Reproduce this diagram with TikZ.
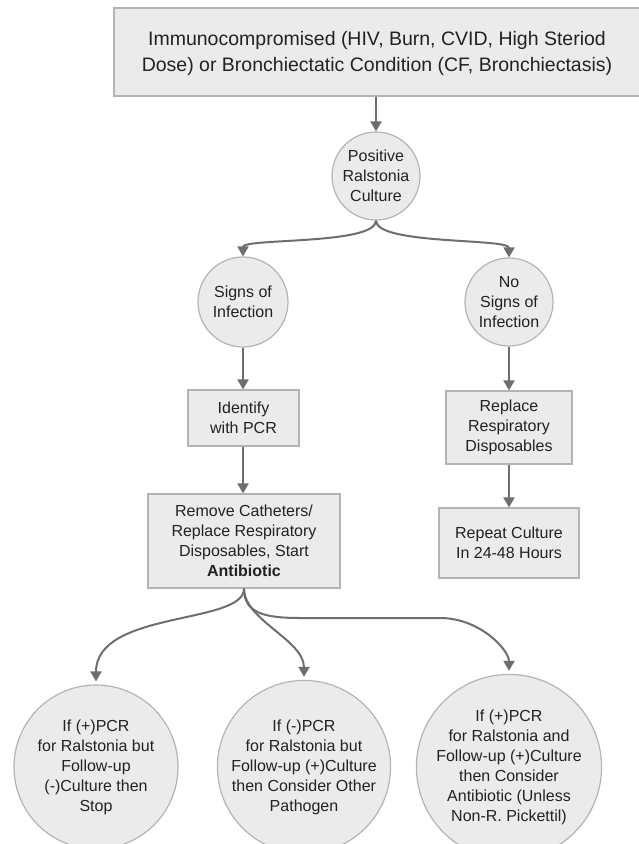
\documentclass[tikz,border=0pt]{standalone}
\usepackage{fontspec}
\setmainfont{Liberation Sans}
\usetikzlibrary{arrows.meta}
\definecolor{boxfill}{HTML}{EBEBEB}
\definecolor{boxline}{HTML}{B4B4B4}
\definecolor{arrowcol}{HTML}{6E6E6E}
\definecolor{txtcol}{HTML}{222222}
\begin{document}
\begin{tikzpicture}[x=1pt,y=-1pt,
  boxnode/.style={draw=boxline, fill=boxfill, line width=1.2pt, rectangle, inner sep=0pt,
    align=center, text=txtcol, font=\fontsize{16}{20}\selectfont},
  circnode/.style={draw=boxline, fill=boxfill, line width=1.2pt, circle, inner sep=0pt,
    align=center, text=txtcol, font=\fontsize{16}{20}\selectfont},
  arr/.style={draw=arrowcol, line width=2pt, -{Triangle[length=10pt,width=11pt]}}]
\useasboundingbox (0,0) rectangle (638,844);
\fill[white] (0,0) rectangle (638,844);

\node[boxnode, minimum width=540pt, minimum height=88pt, font=\fontsize{19.5}{26}\selectfont]
  (top) at (384,52) {};
\node[text=txtcol, align=center, font=\fontsize{19.5}{26}\selectfont, inner sep=0pt]
  (toptext) at (377,53) {Immunocompromised (HIV, Burn, CVID, High Steriod\\Dose) or Bronchiectatic Condition (CF, Bronchiectasis)};

\node[circnode, minimum size=88pt] (pos) at (376,176) {Positive\\Ralstonia\\Culture};
\node[circnode, minimum size=90pt] (sig) at (243,302) {Signs of\\Infection};
\node[circnode, minimum size=88pt] (nosig) at (509,302) {No\\Signs of\\Infection};

\node[boxnode, minimum width=111pt, minimum height=56pt] (pcr) at (243.5,418) {Identify\\with PCR};
\node[boxnode, minimum width=126pt, minimum height=73pt] (repl) at (509,427.5) {Replace\\Respiratory\\Disposables};
\node[boxnode, minimum width=192pt, minimum height=94pt] (rem) at (244,541) {Remove Catheters/\\Replace Respiratory\\Disposables, Start\\\textbf{Antibiotic}};
\node[boxnode, minimum width=140pt, minimum height=70pt] (rep) at (509,543) {Repeat Culture\\In 24-48 Hours};

\node[circnode, minimum size=164pt] (c1) at (96,767) {If (+)PCR\\for Ralstonia but\\Follow-up\\(-)Culture then\\Stop};
\node[circnode, minimum size=164pt] (c2) at (304,767) {If (-)PCR\\for Ralstonia but\\Follow-up (+)Culture\\then Consider Other\\Pathogen};
\node[circnode, minimum size=164pt] (c3) at (509,767) {If (+)PCR\\for Ralstonia and\\Follow-up (+)Culture\\then Consider\\Antibiotic (Unless\\Non-R. Pickettil)};

\draw[arr] (top.south -| pos) -- (pos.north);
\draw[arr] (pos.south) .. controls (376,245) and (243,238) .. (sig.north);
\draw[arr] (pos.south) .. controls (376,245) and (509,238) .. (nosig.north);
\draw[arr] (sig.south) -- (pcr.north -| sig);
\draw[arr] (nosig.south) -- (repl.north);
\draw[arr] (pcr.south -| sig) -- (rem.north -| sig);
\draw[arr] (repl.south) -- (rep.north);

\coordinate (h1) at (300,618);
\coordinate (h2) at (440,618);
\draw[arr] (rem.south) .. controls (244,625) and (96,610) .. ([yshift=3pt]c1.north);
\draw[arr] (rem.south) .. controls (244,620) and (304,640) .. ([yshift=3pt]c2.north);
\draw[arr] (rem.south) .. controls (244,612) and (262,618) .. (h1) -- (h2)
  .. controls (480,618) and (509,650) .. ([yshift=3pt]c3.north);
\end{tikzpicture}
\end{document}
